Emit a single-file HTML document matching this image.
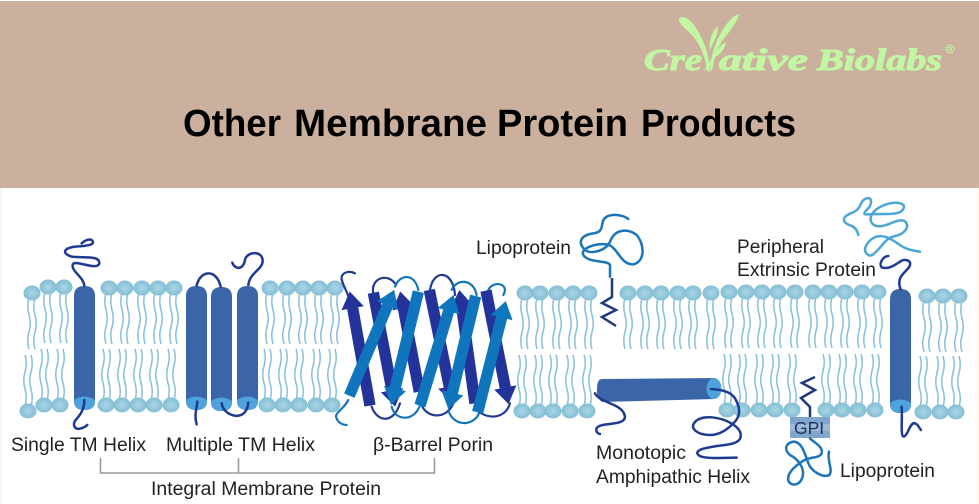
<!DOCTYPE html>
<html>
<head>
<meta charset="utf-8">
<style>
html,body{margin:0;padding:0;background:#fff}
svg{display:block}
text{font-family:"Liberation Sans",sans-serif;fill:#222}
.lg{font-family:"Liberation Serif",serif;font-weight:bold;font-style:italic;font-size:31px;fill:#c1f7a3;stroke:#c1f7a3;stroke-width:1}
.tt{font-size:38px;font-weight:bold;fill:#000}
</style>
</head>
<body>
<svg width="979" height="504" viewBox="0 0 979 504" xmlns="http://www.w3.org/2000/svg">
<defs>
<radialGradient id="hd" cx="50%" cy="50%" r="60%"><stop offset="0" stop-color="#aad6e6"/><stop offset="1" stop-color="#7cb9d0"/></radialGradient>
<g id="up">
<path d="M-3,5 q-2.500,8.500 0,17 t0,17 t0,17 M3,5 q-2.500,8.500 0,17 t0,17 t0,17" fill="none" stroke="#86c0da" stroke-width="1.500"/>
<ellipse cx="0" cy="0" rx="8.500" ry="7.500" fill="url(#hd)"/>
</g>
<g id="dn">
<path d="M-3,-5 q2.500,-8.500 0,-17 t0,-17 t0,-17 M3,-5 q2.500,-8.500 0,-17 t0,-17 t0,-17" fill="none" stroke="#86c0da" stroke-width="1.500"/>
<ellipse cx="0" cy="0" rx="8.500" ry="7.500" fill="url(#hd)"/>
</g>
<g id="hx">
<path d="M0,10 Q0,0 10.500,0 Q21,0 21,10 L21,115 Q21,124 10.500,124 Q0,124 0,115 Z" fill="#3a65a8"/>
<path d="M0,114 Q10.500,107 21,114 Q21,124 10.500,124 Q0,124 0,114 Z" fill="#4fa3dc"/>
</g>
<marker id="ad" viewBox="0 -1 1.500 2" markerWidth="1.500" markerHeight="2" refX="0.020" refY="0" orient="auto"><path d="M0,-1 L1.500,0 L0,1 Z" fill="#23339a"/></marker>
<marker id="al" viewBox="0 -1 1.500 2" markerWidth="1.500" markerHeight="2" refX="0.020" refY="0" orient="auto"><path d="M0,-1 L1.500,0 L0,1 Z" fill="#0f75bd"/></marker>
</defs>

<rect width="979" height="504" fill="#fff"/>
<rect x="0" y="1" width="979" height="187" fill="#cbb09e"/>
<rect x="0" y="188" width="2" height="316" fill="#fdf4ee"/>
<rect x="977" y="188" width="2" height="316" fill="#fdf4ee"/>

<!-- logo -->
<g transform="translate(630,0) scale(0.3333)" fill="#c1f7a3">
<path d="M146,55 C165,40 195,70 215,115 C228,140 238,170 240,215 L232,215 C225,165 210,135 190,110 C175,90 150,80 146,55 Z"/>
<path d="M328,42 C322,65 295,100 275,125 C262,145 254,170 246,215 L240,205 C243,165 255,130 275,95 C290,70 310,45 328,42 Z"/>
<path d="M262,78 C268,100 250,125 240,150 C235,130 245,95 262,78 Z"/>
<path d="M288,126 C285,150 265,170 250,172 C258,155 270,135 288,126 Z"/>
<path d="M258,165 C250,185 238,205 220,214 C232,195 245,175 258,165 Z"/>
</g>
<text class="lg" x="644" y="70" textLength="58" lengthAdjust="spacingAndGlyphs">Cre</text>
<text class="lg" x="719" y="70" textLength="89" lengthAdjust="spacingAndGlyphs">ative</text>
<text class="lg" x="817" y="70" textLength="125" lengthAdjust="spacingAndGlyphs">Biolabs</text>
<circle cx="950" cy="49" r="4" fill="none" stroke="#c1f7a3" stroke-width="1"/>
<text x="950" y="51.500" text-anchor="middle" style="font-size:6px;font-weight:bold;fill:#c1f7a3">R</text>

<text class="tt" x="183" y="136" textLength="98" lengthAdjust="spacingAndGlyphs">Other</text>
<text class="tt" x="294" y="136" textLength="193" lengthAdjust="spacingAndGlyphs">Membrane</text>
<text class="tt" x="497" y="136" textLength="131" lengthAdjust="spacingAndGlyphs">Protein</text>
<text class="tt" x="641" y="136" textLength="155" lengthAdjust="spacingAndGlyphs">Products</text>

<!-- lipids upper -->
<use href="#up" x="32" y="293"/><use href="#up" x="48" y="287"/><use href="#up" x="64" y="287"/>
<use href="#up" x="109" y="288"/><use href="#up" x="125" y="288"/><use href="#up" x="142" y="288"/><use href="#up" x="158" y="288"/><use href="#up" x="174" y="288"/>
<use href="#up" x="270" y="288"/><use href="#up" x="287" y="288"/><use href="#up" x="303" y="288"/><use href="#up" x="319" y="288"/><use href="#up" x="335" y="288"/>
<use href="#up" x="525" y="293"/><use href="#up" x="540" y="293"/><use href="#up" x="557" y="293"/><use href="#up" x="573" y="293"/><use href="#up" x="589" y="293"/>
<use href="#up" x="628" y="293"/><use href="#up" x="645" y="293"/><use href="#up" x="661" y="293"/><use href="#up" x="678" y="293"/><use href="#up" x="693" y="293"/><use href="#up" x="711" y="293"/>
<use href="#up" x="729" y="292"/><use href="#up" x="746" y="292"/><use href="#up" x="762" y="292"/><use href="#up" x="778" y="292"/><use href="#up" x="795" y="292"/>
<use href="#up" x="813" y="292"/><use href="#up" x="829" y="292"/><use href="#up" x="845" y="292"/><use href="#up" x="862" y="292"/><use href="#up" x="878" y="292"/>
<use href="#up" x="927" y="296"/><use href="#up" x="943" y="296"/><use href="#up" x="959" y="296"/>

<!-- lipids lower -->
<use href="#dn" x="28" y="411"/><use href="#dn" x="44" y="405"/><use href="#dn" x="60" y="405"/>
<use href="#dn" x="106" y="405"/><use href="#dn" x="122" y="405"/><use href="#dn" x="138" y="405"/><use href="#dn" x="154" y="405"/><use href="#dn" x="171" y="405"/>
<use href="#dn" x="267" y="405"/><use href="#dn" x="283" y="405"/><use href="#dn" x="299" y="405"/><use href="#dn" x="316" y="405"/><use href="#dn" x="332" y="405"/>
<use href="#dn" x="522" y="411"/><use href="#dn" x="538" y="411"/><use href="#dn" x="553" y="411"/><use href="#dn" x="570" y="411"/><use href="#dn" x="587" y="411"/>
<use href="#dn" x="727" y="410"/><use href="#dn" x="742" y="410"/><use href="#dn" x="759" y="410"/><use href="#dn" x="775" y="410"/><use href="#dn" x="792" y="410"/>
<use href="#dn" x="826" y="410"/><use href="#dn" x="842" y="410"/><use href="#dn" x="858" y="410"/><use href="#dn" x="875" y="410"/>
<use href="#dn" x="923" y="412"/><use href="#dn" x="940" y="412"/><use href="#dn" x="956" y="412"/>

<!-- helices -->
<use href="#hx" x="74" y="286"/><use href="#hx" x="186" y="286"/><use href="#hx" x="211" y="287"/><use href="#hx" x="237" y="286"/><use href="#hx" x="890" y="289"/>

<!-- left coils -->
<g transform="translate(0,230) scale(0.3333)" fill="none" stroke="#1f3a93" stroke-width="7.500" stroke-linecap="round">
<path d="M253,167 C250,140 215,125 218,105 C222,85 290,125 298,100 C300,75 250,85 215,80 C185,70 190,55 225,50 C260,48 290,45 275,30 C265,25 250,35 245,40"/>
<path d="M253,510 C252,560 220,565 222,585 C225,605 250,595 262,585"/>
<path d="M590,167 C600,120 650,115 662,170"/>
<path d="M745,165 C750,125 790,120 788,90 C785,60 740,65 735,90 C730,120 705,120 697,98"/>
<path d="M592,515 C590,540 582,555 590,583"/>
<path d="M665,520 C670,560 740,580 745,518"/>
</g>

<!-- barrel -->
<g transform="translate(320,240) scale(0.3333)">
<g fill="none" stroke-width="6.500" stroke-linecap="round">
<path d="M85,170 C80,150 62,125 65,110 C70,95 90,92 105,100" stroke="#1f3a93"/>
<path d="M85,480 C70,510 40,520 50,535 C55,550 70,555 80,555" stroke="#0f75bd"/>
<path d="M160,160 C150,115 205,95 228,135" stroke="#1f3a93"/>
<path d="M225,140 C240,100 285,100 295,150" stroke="#0f75bd"/>
<path d="M330,150 C340,85 400,90 405,165" stroke="#1f3a93"/>
<path d="M395,150 C410,115 460,115 470,165" stroke="#0f75bd"/>
<path d="M505,150 C520,120 570,130 550,165" stroke="#0f75bd"/>
<path d="M155,500 C170,545 220,555 240,490" stroke="#1f3a93"/>
<path d="M215,500 C225,545 285,545 300,495" stroke="#0f75bd"/>
<path d="M305,495 C320,535 380,540 400,490" stroke="#1f3a93"/>
<path d="M385,510 C400,565 470,560 480,510" stroke="#0f75bd"/>
<path d="M470,510 C510,545 560,530 570,490" stroke="#1f3a93"/>
</g>
<g stroke="#23339a" stroke-width="34" fill="none">
<line x1="150" y1="497" x2="98" y2="204" marker-end="url(#ad)"/>
<line x1="160" y1="158" x2="216" y2="451" marker-end="url(#ad)"/>
<line x1="298" y1="455" x2="250" y2="204" marker-end="url(#ad)"/>
<line x1="328" y1="150" x2="388" y2="440" marker-end="url(#ad)"/>
<line x1="465" y1="490" x2="425" y2="200" marker-end="url(#ad)"/>
<line x1="498" y1="152" x2="556" y2="443" marker-end="url(#ad)"/>
</g>
<g stroke="#0f75bd" stroke-width="34" fill="none">
<line x1="88" y1="467" x2="203" y2="196" marker-end="url(#al)"/>
<line x1="295" y1="155" x2="225" y2="446" marker-end="url(#al)"/>
<line x1="300" y1="497" x2="386" y2="213" marker-end="url(#al)"/>
<line x1="467" y1="168" x2="397" y2="459" marker-end="url(#al)"/>
<line x1="473" y1="517" x2="545" y2="232" marker-end="url(#al)"/>
</g>
</g>

<!-- top lipoprotein -->
<g transform="translate(565,205) scale(0.3333)" fill="none" stroke="#1b75bb" stroke-width="7.500" stroke-linecap="round">
<path d="M135,215 L135,180 C130,165 70,175 55,150 C45,130 90,115 125,118 C160,125 165,180 205,178 C240,170 240,120 215,90 C190,70 150,70 135,110 C125,135 80,150 60,135 C35,110 50,90 85,85 C125,80 100,50 125,35 C145,25 175,30 190,42"/>
</g>
<path d="M612,278 L612,297 L602,303 L616,310 L602,317 L616,326" fill="none" stroke="#1f3a7f" stroke-width="2.500"/>

<!-- monotopic -->
<path d="M602,379 L715,378 L715,399 L602,402 Q596,398 597,389 Q597,379 602,379 Z" fill="#3a65a8"/>
<ellipse cx="714" cy="388.500" rx="7.500" ry="10.500" fill="#4fa3dc"/>
<g transform="translate(640,190) scale(0.3333)" fill="none" stroke="#1f3a93" stroke-width="7.500" stroke-linecap="round">
<path d="M213,597 Q270,600 285,625 Q300,650 297,670 Q295,690 267,712 Q240,735 210,735 Q180,735 166,722 Q152,710 166,695 Q180,680 215,682 Q250,685 277,702 Q305,720 302,740 Q300,760 255,765 Q210,770 187,777 Q165,785 175,795 Q185,805 237,804 L290,803"/>
<path d="M785,650 C788,690 780,740 792,740 C805,735 810,695 825,700 C835,703 838,715 843,720"/>
<path d="M782,298 C770,270 785,255 800,240 C825,215 800,205 785,212 C765,225 745,240 725,232 C715,222 730,198 745,198"/>
</g>
<g transform="translate(320,240) scale(0.3333)" fill="none" stroke="#1f3a93" stroke-width="7.500" stroke-linecap="round">
<path d="M825,460 C840,490 910,490 915,530 C915,560 840,545 830,565 C826,575 835,582 840,582"/>
</g>

<!-- peripheral blob -->
<g transform="translate(640,190) scale(0.3333)" fill="none" stroke="#4ca6d8" stroke-width="7.500" stroke-linecap="round">
<path d="M655,135 Q650,112 631,106 Q612,100 612,89 Q612,78 633,70 Q655,62 661,45 Q668,28 680,25 Q692,22 693,33 Q695,45 680,60 Q665,75 682,73 Q700,72 740,72 Q780,72 788,60 Q797,48 786,42 Q775,36 750,40 Q725,45 707,60 Q690,75 692,90 Q695,105 710,108 Q725,112 757,98 Q790,85 798,97 Q806,110 795,122 Q785,135 765,138 Q745,142 730,161 Q715,180 702,191 Q690,202 680,191 Q670,180 680,164 Q690,148 706,141 Q722,135 741,142 Q760,150 780,165 Q800,180 840,185"/>
</g>

<!-- GPI -->
<path d="M810,417 L810,407 L801,398 L815,390 L802,383 L815,377" fill="none" stroke="#1f3a7f" stroke-width="2.500"/>
<rect x="790" y="417" width="40" height="21" fill="#7fa6cc"/>
<rect x="790" y="424" width="40" height="7" fill="#a8c2dc" opacity=".7"/>
<text x="794" y="434" style="font-size:17.500px;fill:#24305e">GPI</text>
<g transform="translate(640,190) scale(0.3333)" fill="none" stroke="#1b75bb" stroke-width="7.500" stroke-linecap="round">
<path d="M510,745 C525,760 550,770 545,790 C540,805 510,800 490,812 C465,828 440,850 445,872 C452,890 480,888 488,860 C495,830 470,805 450,795 C432,780 435,760 460,755 C485,755 495,790 505,820 C515,845 550,865 568,855 C580,840 560,810 567,785"/>
</g>

<!-- bracket -->
<path d="M100.500,458 V473 H434.500 V458 M238.500,458 V473" fill="none" stroke="#9b9b9b" stroke-width="1.600"/>

<!-- labels -->
<g style="font-size:19px">
<text x="11" y="451" textLength="135" lengthAdjust="spacingAndGlyphs">Single TM Helix</text>
<text x="166" y="451" textLength="149" lengthAdjust="spacingAndGlyphs">Multiple TM Helix</text>
<text x="373" y="451" textLength="120" lengthAdjust="spacingAndGlyphs">β-Barrel Porin</text>
<text x="151" y="495" textLength="230" lengthAdjust="spacingAndGlyphs">Integral Membrane Protein</text>
<text x="476" y="254" textLength="95" lengthAdjust="spacingAndGlyphs">Lipoprotein</text>
<text x="737" y="253" textLength="87" lengthAdjust="spacingAndGlyphs">Peripheral</text>
<text x="737" y="276" textLength="139" lengthAdjust="spacingAndGlyphs">Extrinsic Protein</text>
<text x="596" y="459" textLength="90" lengthAdjust="spacingAndGlyphs">Monotopic</text>
<text x="596" y="483" textLength="154" lengthAdjust="spacingAndGlyphs">Amphipathic Helix</text>
<text x="840" y="477" textLength="95" lengthAdjust="spacingAndGlyphs">Lipoprotein</text>
</g>
</svg>
</body>
</html>
